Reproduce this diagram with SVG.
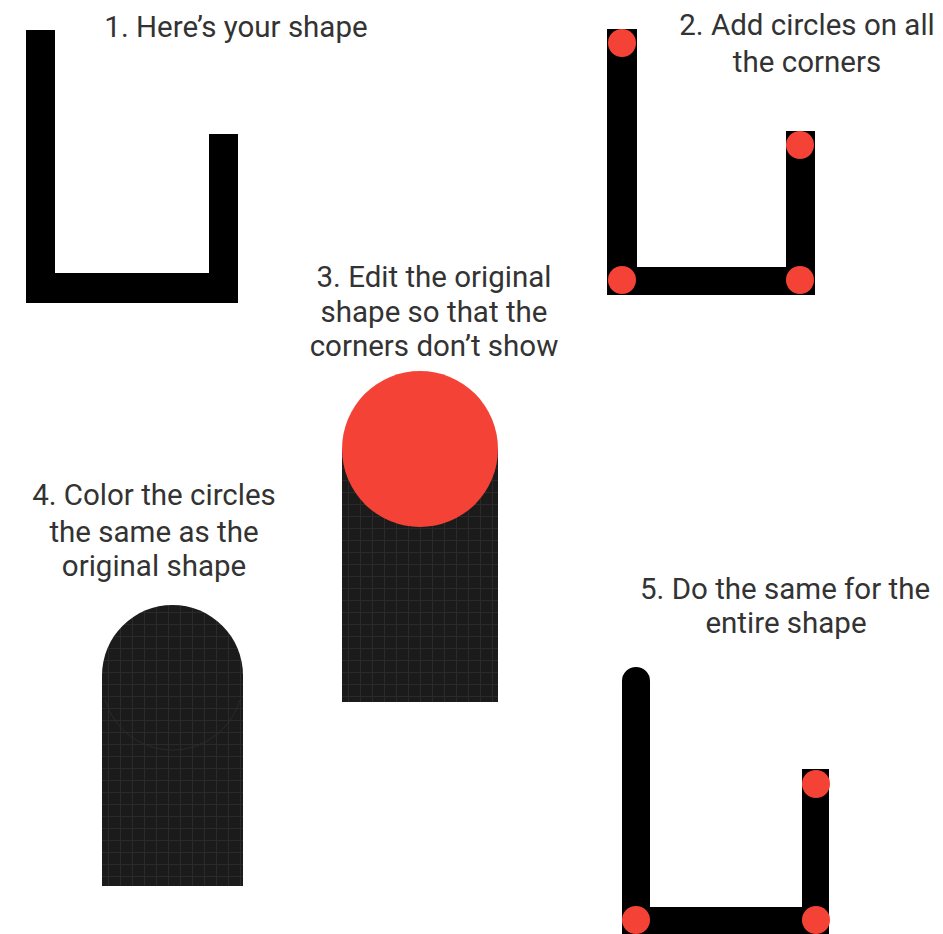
<svg xmlns="http://www.w3.org/2000/svg" width="943" height="934" viewBox="0 0 943 934">
<style>
text{font-family:Roboto,"Liberation Sans",sans-serif;font-size:29.5px;fill:#333;text-anchor:middle}
.blk{fill:#000}
.red{fill:#f44336}
</style>
<defs>
<pattern id="grid" width="12" height="12" patternUnits="userSpaceOnUse">
<rect width="12" height="12" fill="#1b1b1b"/>
<path d="M0 0.5H12M0.5 0V12" stroke="#2a2a2a" stroke-width="1"/>
</pattern>
</defs>
<rect width="943" height="934" fill="#fff"/>
<g id="step1">
<text x="236" y="37">1. Here’s your shape</text>
<path class="blk" d="M26 30H55V273H209V134H238V303H26Z"/>
</g>
<g id="step2">
<text x="807" y="35">2. Add circles on all</text>
<text x="807" y="72">the corners</text>
<path class="blk" d="M607 29H637V267H786V131H815V295H607Z"/>
<circle class="red" cx="622" cy="43" r="14"/>
<circle class="red" cx="800" cy="145" r="14"/>
<circle class="red" cx="622" cy="280" r="14"/>
<circle class="red" cx="800" cy="280" r="14"/>
</g>
<g id="step3">
<text x="434" y="287">3. Edit the original</text>
<text x="434" y="322">shape so that the</text>
<text x="434" y="356">corners don’t show</text>
<rect x="342" y="449" width="156" height="253" fill="url(#grid)"/>
<circle class="red" cx="420" cy="449" r="78"/>
</g>
<g id="step4">
<text x="154" y="505">4. Color the circles</text>
<text x="154" y="542">the same as the</text>
<text x="154" y="576">original shape</text>
<rect x="102" y="675" width="141" height="211" fill="url(#grid)"/>
<circle cx="172.5" cy="675.5" r="70.5" fill="url(#grid)"/>
<path d="M105 700A70.5 70.5 0 0 0 240 700" fill="none" stroke="#2a2a2a" stroke-width="1"/>
</g>
<g id="step5">
<text x="785" y="599">5. Do the same for the</text>
<text x="786" y="633">entire shape</text>
<path class="blk" d="M622 681A14 14 0 0 1 650 681V907H802V769H829V934H622Z"/>
<circle class="red" cx="816" cy="784" r="14"/>
<circle class="red" cx="636" cy="920" r="14"/>
<circle class="red" cx="816" cy="920" r="14"/>
</g>
</svg>
